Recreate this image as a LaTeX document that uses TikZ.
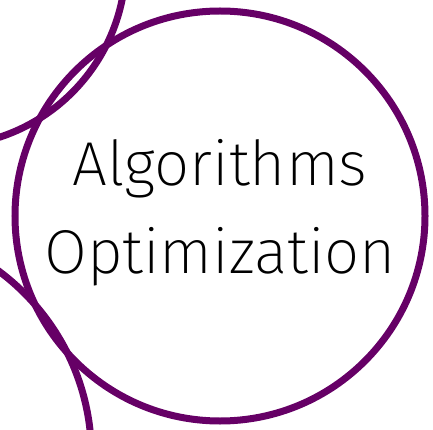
\documentclass[tikz,border=0pt]{standalone}
\usepackage{fontspec}
\setmainfont{Fira Sans ExtraLight}
\usepackage{tikz}
\usetikzlibrary{positioning}
\definecolor{ringpurple}{RGB}{102,0,102}
\tikzset{ring/.style={line width=7pt,draw=ringpurple}}

\begin{document}
\begin{tikzpicture}[x=1pt,y=-1pt]
				\useasboundingbox (0,0) rectangle (433,430);
				\begin{scope}
				\clip (0,0) rectangle (433,430);
				\draw[ring] (-57.6,-37.1) circle (183.4pt);
				\draw[ring] (-138.3,455.4) circle (229.7pt);
				\draw[ring] (220,216) circle (205pt);
				\end{scope}
				\node[font=\fontsize{62}{88}\selectfont,align=center] (title) at (220,213) {Algorithms\\Optimization};
			\end{tikzpicture}
\end{document}
